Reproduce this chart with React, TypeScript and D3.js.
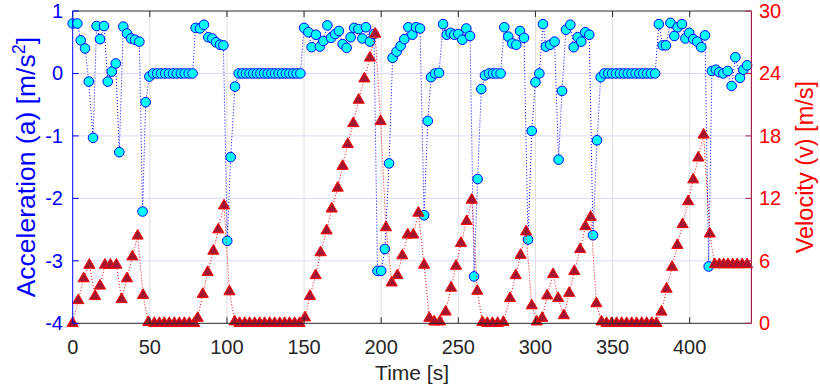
import React from 'react';
import * as d3 from 'd3';

// acceleration samples (circles, left axis)
const accelTime = [
  0, 3.0, 5.2, 8.0, 10.4, 13.2, 15.5, 17.7, 20.3, 22.7, 25.3, 27.9, 30.2, 32.8, 35.2, 37.8, 40.4, 43.2, 45.3, 47.3, 49.7,
  52.2, 54.8, 57.3, 59.9, 62.4, 65.0, 67.5, 70.1, 72.6, 75.2, 77.7,
  79.7, 82.5, 85.1, 87.9, 90.5, 92.9, 95.5, 97.7, 100.2, 102.4, 105.2,
  107.6, 110.0, 112.3, 114.7, 117.0, 119.4, 121.7, 124.1, 126.4, 128.8, 131.1, 133.5, 135.8, 138.2, 140.5, 142.9, 145.2, 147.6,
  150.0, 152.8, 154.9, 157.7, 160.3, 162.5, 165.1, 167.5, 170.1, 172.6, 175.0, 177.6, 180.2, 182.5, 185.2, 187.8, 190.1, 192.7, 195.3,
  197.6, 200.0, 202.4, 205.1, 207.4, 210.0, 212.6, 215.0, 217.6, 220.2, 222.6, 225.2, 227.8, 230.2, 232.3, 234.9, 237.5,
  240.1, 242.5, 245.0, 247.4, 250.0, 252.6, 255.2, 257.6, 260.2, 262.5, 264.9, 267.3, 269.9, 272.5, 274.8, 277.4,
  279.8, 282.4, 285.0, 287.6, 290.0, 292.6, 295.2, 297.6, 300.0, 302.5,
  304.9, 306.8, 309.6, 312.4, 315.0, 317.2, 319.8, 322.6, 324.8, 327.4, 329.7, 332.3, 334.9, 337.3, 339.9, 342.3,
  344.7, 347.2, 349.7, 352.2, 354.8, 357.3, 359.8, 362.3, 364.9, 367.4, 369.9, 372.4, 374.9, 377.6,
  380.0, 382.5, 384.6, 387.5, 390.0, 392.2, 395.0, 397.2, 399.7, 402.3, 404.9, 407.5, 409.9, 412.3, 414.4, 417.0, 419.2, 421.8, 424.6, 427.2, 429.6, 432.6, 434.8, 437.2,
];
const accelValues = [
  0.8, 0.8, 0.53, 0.4, -0.13, -1.03, 0.76, 0.55, 0.76, -0.13, 0.03, 0.16, -1.26, 0.75, 0.64, 0.56, 0.54, 0.51, -2.21, -0.46, -0.05,
  0, 0, 0, 0, 0, 0, 0, 0, 0, 0, 0,
  0.73, 0.72, 0.78, 0.58, 0.56, 0.5, 0.46, 0.45, -2.68, -1.34, -0.21,
  0, 0, 0, 0, 0, 0, 0, 0, 0, 0, 0, 0, 0, 0, 0, 0, 0, 0,
  0.73, 0.66, 0.42, 0.62, 0.43, 0.52, 0.77, 0.57, 0.63, 0.68, 0.47, 0.41, 0.58, 0.73, 0.71, 0.56, 0.74, 0.51, 0.63,
  -3.16, -3.16, -2.81, -1.44, 0.25, 0.35, 0.44, 0.55, 0.74, 0.62, 0.74, 0.72, -2.27, -0.76, -0.06, 0, 0.01,
  0.79, 0.62, 0.65, 0.62, 0.63, 0.54, 0.72, 0.6, -3.25, -1.69, -0.25, -0.03, 0, 0, 0, 0,
  0.74, 0.59, 0.48, 0.46, 0.68, 0.57, -2.66, -0.92, -0.14, 0,
  0.79, 0.43, 0.46, 0.51, -1.38, -0.28, 0.7, 0.78, 0.42, 0.58, 0.51, 0.66, 0.62, -2.59, -1.07, -0.06,
  0, 0, 0, 0, 0, 0, 0, 0, 0, 0, 0, 0, 0, 0,
  0.79, 0.45, 0.45, 0.81, 0.6, 0.74, 0.79, 0.56, 0.65, 0.55, 0.51, 0.42, 0.61, -3.09, 0.04, 0.06, 0.02, 0, 0.04, -0.2, 0.26, -0.07, 0.06, 0.13,
];

// velocity samples (triangles, right axis)
const velTime = [
  0, 3.6, 7.1, 10.8, 14.5, 17.7, 20.9, 24.4, 28.3, 31.7, 35.2, 38.7, 42.1, 45.6, 49.0,
  52.9, 56.2, 59.4, 62.6, 65.9, 69.1, 72.4, 75.6, 78.8,
  81.0, 84.3, 87.5, 91.2, 94.4, 98.1, 101.6, 105.0,
  108.2, 111.5, 114.7, 118.0, 121.2, 124.4, 127.7, 130.9, 134.2, 137.4, 140.6, 143.9, 147.1,
  150.6, 153.8, 157.5, 160.7, 164.6, 167.9, 171.8, 175.0, 178.3, 181.9, 185.4, 189.1, 192.7, 196.1,
  199.6, 203.1, 206.8, 210.5, 213.7, 217.2, 220.8, 224.1, 227.8, 231.2, 234.4, 238.1,
  241.8, 245.3, 248.5, 251.7, 255.4, 258.7, 262.3, 265.6, 268.8, 272.1, 275.5, 279.2,
  283.5, 287.2, 290.4, 293.9, 297.6, 300.8, 304.4,
  307.6, 311.4, 314.7, 318.4, 321.9, 325.2, 329.0, 332.4, 335.8, 339.5, 342.8,
  346.1, 349.4, 352.6, 355.9, 359.1, 362.4, 365.6, 368.9, 372.1, 375.4, 378.4,
  381.7, 385.0, 388.6, 392.0, 395.4, 399.0, 402.3, 405.6, 409.0, 413.0,
  416.2, 419.2, 422.0, 424.8, 427.9, 430.8, 434.0, 437.2,
];
const velValues = [
  0, 2.2, 4.3, 5.6, 2.6, 3.6, 5.6, 5.6, 5.6, 2.3, 4.3, 6.4, 8.4, 2.7, 0.1,
  0, 0, 0, 0, 0, 0, 0, 0, 0,
  0.5, 2.8, 4.9, 6.95, 9.0, 11.3, 3.05, 0.15,
  0, 0, 0, 0, 0, 0, 0, 0, 0, 0, 0, 0, 0,
  0.54, 2.6, 4.6, 6.8, 8.9, 11.0, 13.0, 15.1, 17.2, 19.2, 21.45, 23.5, 25.5, 27.8,
  19.4, 9.2, 3.9, 4.6, 6.5, 8.5, 8.5, 10.6, 5.6, 0.5, 0.15, 0.15,
  1.1, 3.4, 5.5, 7.7, 9.8, 11.85, 3.1, 0.1, 0, 0, 0, 0.1,
  2.4, 4.6, 6.55, 8.8, 1.7, 0.15, 0.5,
  2.65, 4.7, 2.4, 0.75, 2.9, 5.0, 7.1, 9.3, 10.2, 1.9, 0.15,
  0, 0, 0, 0, 0, 0, 0, 0, 0, 0, 0,
  1.1, 3.3, 5.4, 7.5, 9.5, 11.7, 13.8, 15.9, 18.1, 8.6,
  5.65, 5.65, 5.65, 5.65, 5.65, 5.65, 5.65, 5.65,
];

const timeTicks = [0, 50, 100, 150, 200, 250, 300, 350, 400];
const accelTicks = [-4, -3, -2, -1, 0, 1];
const velTicks = [0, 6, 12, 18, 24, 30];

const FONT = '"Liberation Sans", Arial, Helvetica, sans-serif';

export default function App() {
  const W = 820;
  const H = 390;
  const left = 72.7, right = 751.4, top = 11, bottom = 323.3;
  const tick = 6;

  const x = d3.scaleLinear().domain([0, 440]).range([left, right]);
  const yA = d3.scaleLinear().domain([-4, 1]).range([bottom, top]);
  const yV = d3.scaleLinear().domain([0, 30]).range([bottom, top]);

  const accel = accelTime.map((t, i) => [t, accelValues[i]] as [number, number]);
  const vel = velTime.map((t, i) => [t, velValues[i]] as [number, number]);

  const lineA = d3.line<[number, number]>().x(d => x(d[0])).y(d => yA(d[1]));
  const lineV = d3.line<[number, number]>().x(d => x(d[0])).y(d => yV(d[1]));
  const triangle = d3.symbol().type(d3.symbolTriangle).size(54)() as string;

  const dark = '#262626';
  const blue = '#0000ff';
  const red = '#ff0000';
  const rightAxis = '#a8224e';

  return (
    <svg width={W} height={H} style={{ position: 'absolute', left: 0, top: 0, background: '#fff' }} fontFamily={FONT}>
      <rect x={0} y={0} width={W} height={H} fill="#fff" />

      {/* grid */}
      {timeTicks.filter(t => t > 0).map(t => (
        <line key={'gx' + t} x1={x(t)} x2={x(t)} y1={top} y2={bottom} stroke="#dfdfdf" strokeWidth={1} />
      ))}
      {accelTicks.filter(t => t > -4 && t < 1).map(t => (
        <line key={'gy' + t} x1={left} x2={right} y1={yA(t)} y2={yA(t)} stroke="#d9d9ff" strokeWidth={1} />
      ))}

      {/* acceleration */}
      <path d={lineA(accel) || ''} fill="none" stroke={blue} strokeWidth={1} strokeDasharray="1 2" />
      {accel.map((d, i) => (
        <circle key={'a' + i} cx={x(d[0])} cy={yA(d[1])} r={4.8} fill="#00ffff" stroke={blue} strokeWidth={1} />
      ))}

      {/* velocity */}
      <path d={lineV(vel) || ''} fill="none" stroke={red} strokeWidth={1} strokeDasharray="1 2" />
      {vel.map((d, i) => (
        <path key={'v' + i} d={triangle} transform={`translate(${x(d[0])},${yV(d[1])})`} fill="#a2142f" stroke={red} strokeWidth={1} />
      ))}

      {/* box and axes */}
      <line x1={left} x2={right} y1={top} y2={top} stroke={dark} strokeWidth={1} />
      <line x1={left} x2={right} y1={bottom} y2={bottom} stroke={dark} strokeWidth={1} />
      {timeTicks.map(t => (
        <g key={'xt' + t}>
          <line x1={x(t)} x2={x(t)} y1={bottom} y2={bottom - tick} stroke={dark} />
          <line x1={x(t)} x2={x(t)} y1={top} y2={top + tick} stroke={dark} />
          <text x={x(t)} y={347} textAnchor="middle" dominantBaseline="central" fontSize={20} fill={dark}>{t}</text>
        </g>
      ))}
      <text x={(left + right) / 2} y={372} textAnchor="middle" dominantBaseline="central" fontSize={21} fill={dark}>Time [s]</text>

      <line x1={left} x2={left} y1={top} y2={bottom} stroke={blue} strokeWidth={1} />
      {accelTicks.map(t => (
        <g key={'ya' + t}>
          <line x1={left} x2={left + tick} y1={yA(t)} y2={yA(t)} stroke={blue} />
          <text x={63} y={yA(t)} textAnchor="end" dominantBaseline="central" fontSize={20} fill={blue}>{t}</text>
        </g>
      ))}
      <text transform={`translate(35,${(top + bottom) / 2}) rotate(-90)`} textAnchor="middle" fontSize={26.5} fill={blue}>
        Acceleration (a) [m/s<tspan dy={-10} fontSize={18}>2</tspan><tspan dy={10}>]</tspan>
      </text>

      <line x1={right} x2={right} y1={top} y2={bottom} stroke={rightAxis} strokeWidth={1.2} />
      {velTicks.map(t => (
        <g key={'yv' + t}>
          <line x1={right} x2={right - tick} y1={yV(t)} y2={yV(t)} stroke={rightAxis} />
          <text x={759} y={yV(t)} textAnchor="start" dominantBaseline="central" fontSize={20} fill={red}>{t}</text>
        </g>
      ))}
      <text transform={`translate(813,${(top + bottom) / 2}) rotate(-90)`} textAnchor="middle" fontSize={23.5} fill={red}>
        Velocity (v) [m/s]
      </text>
    </svg>
  );
}
